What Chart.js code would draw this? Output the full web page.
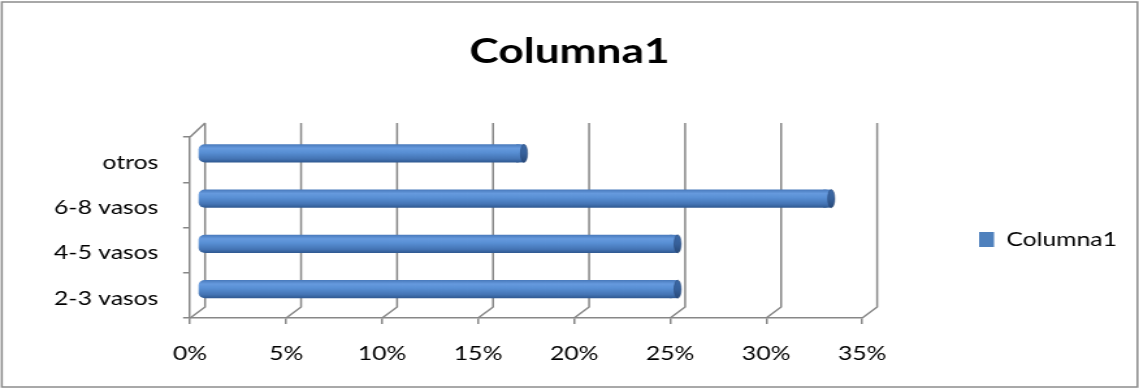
<!DOCTYPE html>
<html>
<head>
<meta charset="utf-8">
<script src="https://cdn.jsdelivr.net/npm/chart.js@4.4.1/dist/chart.umd.min.js"></script>
<style>
  html, body { margin: 0; padding: 0; background: #fff; overflow: hidden; }
  #wrap { width: 876px; height: 389px; transform: scaleX(1.30023); transform-origin: 0 0; }
  canvas { display: block; }
</style>
</head>
<body>
<div id="wrap"><canvas id="chart" width="876" height="389" style="width:876px;height:389px"></canvas></div>
<script>
// Data
const categories = ['otros', '6-8 vasos', '4-5 vasos', '2-3 vasos'];
const seriesName = 'Columna1';
const values = [17, 33, 25, 25];          // percent
const tickValues = [0, 5, 10, 15, 20, 25, 30, 35];

// Styling
const FONT = 'Lato, "Open Sans", sans-serif';
const GRID = '#878787';
const BASE_BLUE = '#4F81BD';
const DEPTH_X = 11.5;      // horizontal depth of the 3D floor
const DEPTH_TOP = 14;      // vertical depth at the top edge
const DEPTH_BOTTOM = 11;   // vertical depth at the floor
const BAR_PCT = 0.4;
const LEGEND_X = 753;
const LEGEND_TOP = 90;

function cylinderGradient(ctx, top, bottom) {
  const g = ctx.createLinearGradient(0, top, 0, bottom);
  g.addColorStop(0, '#4879bb');
  g.addColorStop(0.22, '#669ade');
  g.addColorStop(0.45, '#588fd4');
  g.addColorStop(0.8, '#4474b4');
  g.addColorStop(1, '#2f5890');
  return g;
}

function barHalf(chart) {
  const a = chart.chartArea;
  return (a.bottom - a.top) / categories.length * BAR_PCT / 2;
}

const depthPlugin = {
  id: 'depth',
  beforeDraw(chart) {
    const { ctx, width, height } = chart;
    ctx.save();
    ctx.fillStyle = '#ffffff';
    ctx.fillRect(0, 0, width, height);
    ctx.strokeStyle = '#8c8c8c';
    ctx.lineWidth = 1.5;
    ctx.strokeRect(1.4, 2, width - 2.6, height - 4);
    ctx.restore();
  },
  afterLayout(chart) {
    const lg = chart.legend;
    const pad = lg.options.labels.padding;
    lg.left = LEGEND_X - pad;
    lg.top = LEGEND_TOP;
    lg.bottom = chart.height;
  },
  beforeDatasetsDraw(chart) {
    const { ctx, chartArea: a, scales: { x } } = chart;
    ctx.save();
    ctx.strokeStyle = GRID;
    ctx.lineWidth = 1.5;
    ctx.beginPath();
    x.ticks.forEach(t => {
      const px = x.getPixelForValue(t.value);
      // back wall gridline and its floor connector
      ctx.moveTo(px + DEPTH_X, a.top - DEPTH_TOP);
      ctx.lineTo(px + DEPTH_X, a.bottom - DEPTH_BOTTOM);
      ctx.lineTo(px, a.bottom);
    });
    ctx.moveTo(a.left, a.top);
    ctx.lineTo(a.left + DEPTH_X, a.top - DEPTH_TOP);
    ctx.stroke();
    ctx.restore();
    // cylinders sit halfway into the depth
    ctx.save();
    ctx.translate(DEPTH_X / 2, -(DEPTH_TOP + DEPTH_BOTTOM) / 4);
  },
  afterDatasetsDraw(chart) {
    const { ctx } = chart;
    const meta = chart.getDatasetMeta(0);
    meta.data.forEach(bar => {
      const h = bar.height;
      const top = bar.y - h / 2, bottom = bar.y + h / 2;
      // square off the body up to the cap
      ctx.fillStyle = cylinderGradient(ctx, top, bottom);
      ctx.fillRect(bar.x - 6, top, 6, h);
      // end cap
      const g = ctx.createLinearGradient(0, top, 0, bottom);
      g.addColorStop(0, '#3c69a6');
      g.addColorStop(0.5, '#36609a');
      g.addColorStop(1, '#284a7a');
      ctx.beginPath();
      ctx.ellipse(bar.x, bar.y, 2.7, h / 2, 0, 0, Math.PI * 2);
      ctx.fillStyle = g;
      ctx.fill();
      ctx.strokeStyle = 'rgba(40,70,115,0.6)';
      ctx.lineWidth = 0.8;
      ctx.stroke();
    });
    ctx.restore();
  }
};

new Chart(document.getElementById('chart'), {
  type: 'bar',
  data: {
    labels: categories,
    datasets: [{
      label: seriesName,
      data: values,
      backgroundColor(c) {
        if (c.type !== 'data' || !c.chart.chartArea) return BASE_BLUE;
        const cy = c.chart.scales.y.getPixelForValue(c.dataIndex);
        const hh = barHalf(c.chart);
        return cylinderGradient(c.chart.ctx, cy - hh, cy + hh);
      },
      borderWidth: 0,
      borderSkipped: false,
      borderRadius: 5,
      barPercentage: BAR_PCT,
      categoryPercentage: 1,
      clip: false
    }]
  },
  options: {
    indexAxis: 'y',
    responsive: false,
    animation: false,
    devicePixelRatio: 1,
    font: { family: FONT },
    layout: { padding: 0 },
    scales: {
      x: {
        min: 0,
        max: 35,
        afterBuildTicks(s) { s.ticks = tickValues.map(v => ({ value: v })); },
        ticks: {
          callback: v => v + '%',
          color: '#000',
          font: { family: FONT, size: 19 },
          padding: 18,
          maxRotation: 0,
          autoSkip: false
        },
        grid: { drawOnChartArea: false, tickLength: 6, color: GRID, lineWidth: 1.5 },
        border: { color: GRID, width: 1.5 },
        afterFit(s) { s.height = 71; }
      },
      y: {
        ticks: {
          color: '#000',
          font: { family: FONT, size: 19 },
          padding: 19,
          labelOffset: 3
        },
        grid: { drawOnChartArea: false, tickLength: 5.4, color: GRID, lineWidth: 1.5, offset: true },
        border: { color: GRID, width: 1.5 },
        afterFit(s) { s.width = 146.2; }
      }
    },
    plugins: {
      title: {
        display: true,
        text: seriesName,
        color: '#000',
        font: { family: FONT, size: 34, weight: 'bold' },
        padding: { top: 32, bottom: 64.2 }
      },
      legend: {
        display: true,
        position: 'right',
        maxWidth: 212.9,
        labels: {
          boxWidth: 11.5,
          boxHeight: 15,
          padding: 120,
          color: '#000',
          font: { family: FONT, size: 19 },
          generateLabels(chart) {
            return Chart.defaults.plugins.legend.labels.generateLabels(chart).map(item =>
              Object.assign(item, { fillStyle: BASE_BLUE, strokeStyle: BASE_BLUE, lineWidth: 0 }));
          }
        }
      },
      tooltip: { enabled: false }
    }
  },
  plugins: [depthPlugin]
});
</script>
</body>
</html>
